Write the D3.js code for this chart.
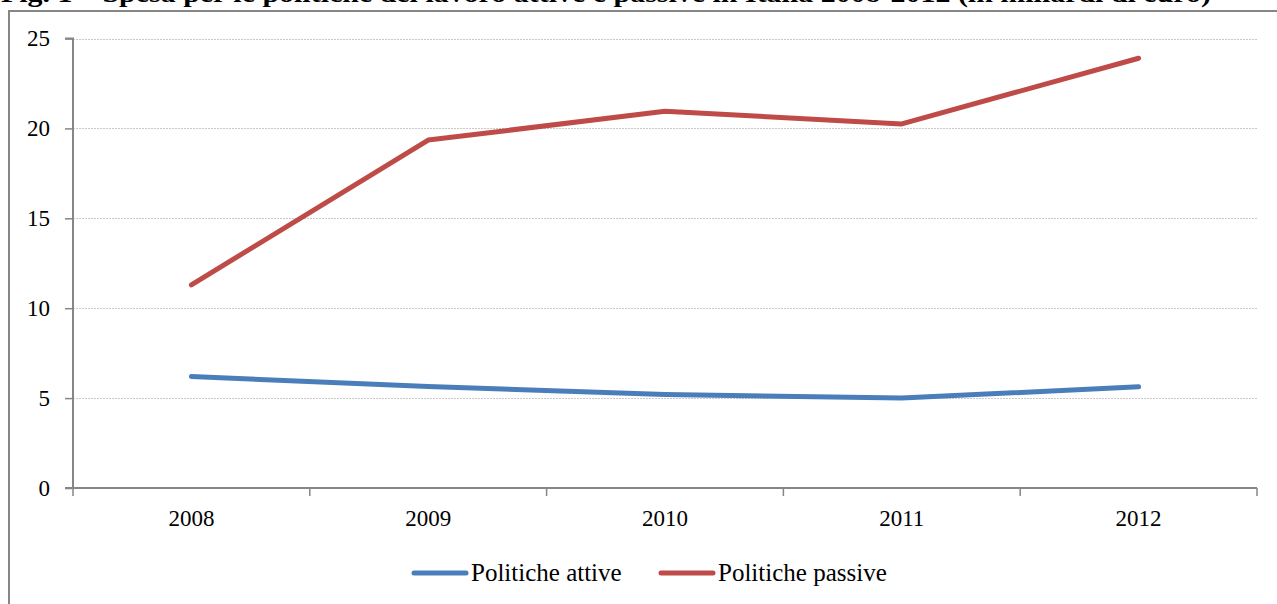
<!DOCTYPE html>
<html>
<head>
<meta charset="utf-8">
<script src="https://cdn.jsdelivr.net/npm/d3@7"></script>
<style>
  body { margin: 0; background: #fff; }
  svg { display: block; }
  text { font-family: "Liberation Serif", "Times New Roman", serif; fill: #000; }
</style>
</head>
<body>
<svg id="chart" width="1277" height="604"></svg>
<script>
// data (miliardi di euro)
let years = ["2008", "2009", "2010", "2011", "2012"];
let attive = [6.2, 5.65, 5.2, 5.0, 5.63];
let passive = [11.3, 19.35, 20.95, 20.25, 23.9];
let yTicks = [0, 5, 10, 15, 20, 25];
let seriesNames = ["Politiche attive", "Politiche passive"];
let seriesColors = ["#4A7EBB", "#BE4B48"];

let svg = d3.select("#chart");

let plotLeft = 73, plotRight = 1257, plotTop = 38.5, plotBottom = 488;

// title, its upper part lies above the page as in the source
svg.append("text")
    .attr("x", 1)
    .attr("y", 1.5)
    .attr("textLength", 1210)
    .attr("lengthAdjust", "spacingAndGlyphs")
    .style("font-weight", "bold")
    .style("font-size", "26px")
    .text("Fig. 1 – Spesa per le politiche del lavoro attive e passive in Italia 2008-2012 (in miliardi di euro)");

// chart frame
svg.append("rect")
    .attr("x", 9)
    .attr("y", 11)
    .attr("width", 1300)
    .attr("height", 700)
    .attr("fill", "#fff")
    .attr("stroke", "#868686")
    .attr("stroke-width", 2);

let x = d3.scaleBand().domain(years).range([plotLeft, plotRight]);
let y = d3.scaleLinear().domain([0, 25]).range([plotBottom, plotTop]);

// gridlines
svg.append("g")
    .selectAll("line")
    .data(yTicks.filter(d => d > 0))
    .enter()
    .append("line")
    .attr("x1", plotLeft)
    .attr("x2", plotRight)
    .attr("y1", d => Math.round(y(d)) + 0.5)
    .attr("y2", d => Math.round(y(d)) + 0.5)
    .attr("stroke", "#c8c8c8")
    .attr("stroke-width", 1)
    .attr("stroke-dasharray", "2,1");

// y axis
let yAxis = svg.append("g")
    .attr("transform", `translate(${plotLeft},0)`)
    .call(d3.axisLeft(y).tickValues(yTicks).tickSize(8).tickPadding(15));

// x axis with ticks between categories
let xAxis = svg.append("g")
    .attr("transform", `translate(0,${plotBottom})`)
    .call(d3.axisBottom(x).tickSize(0).tickPadding(22));

xAxis.selectAll(".sep")
    .data(years.concat(["end"]))
    .enter()
    .append("line")
    .attr("class", "sep")
    .attr("x1", (d, i) => plotLeft + i * x.bandwidth())
    .attr("x2", (d, i) => plotLeft + i * x.bandwidth())
    .attr("y1", 0)
    .attr("y2", 8);

[yAxis, xAxis].forEach(ax => {
    ax.selectAll("path").attr("stroke", "#868686").attr("stroke-width", 2);
    ax.selectAll("line").attr("stroke", "#868686").attr("stroke-width", 1.5);
    ax.selectAll("text")
        .style("font-family", '"Liberation Serif", serif')
        .style("font-size", "23px")
        .attr("fill", "#000");
});
yAxis.select("path").attr("d", `M-8,${plotTop}H0V${plotBottom}`);
xAxis.select("path").attr("d", `M${plotLeft - 8},0H${plotRight}`);

// lines
let line = d3.line()
    .x((d, i) => x(years[i]) + x.bandwidth() / 2)
    .y(d => y(d));

[attive, passive].forEach((values, k) => {
    svg.append("path")
        .datum(values)
        .attr("d", line)
        .attr("fill", "none")
        .attr("stroke", seriesColors[k])
        .attr("stroke-width", 5)
        .attr("stroke-linecap", "round")
        .attr("stroke-linejoin", "round");
});

// legend
let legendX = [414, 661];
let legend = svg.append("g");
seriesNames.forEach((name, k) => {
    legend.append("line")
        .attr("x1", legendX[k])
        .attr("x2", legendX[k] + 52)
        .attr("y1", 573)
        .attr("y2", 573)
        .attr("stroke", seriesColors[k])
        .attr("stroke-width", 5)
        .attr("stroke-linecap", "round");
    legend.append("text")
        .attr("x", legendX[k] + 57)
        .attr("y", 581)
        .style("font-size", "25px")
        .text(name);
});
</script>
</body>
</html>
